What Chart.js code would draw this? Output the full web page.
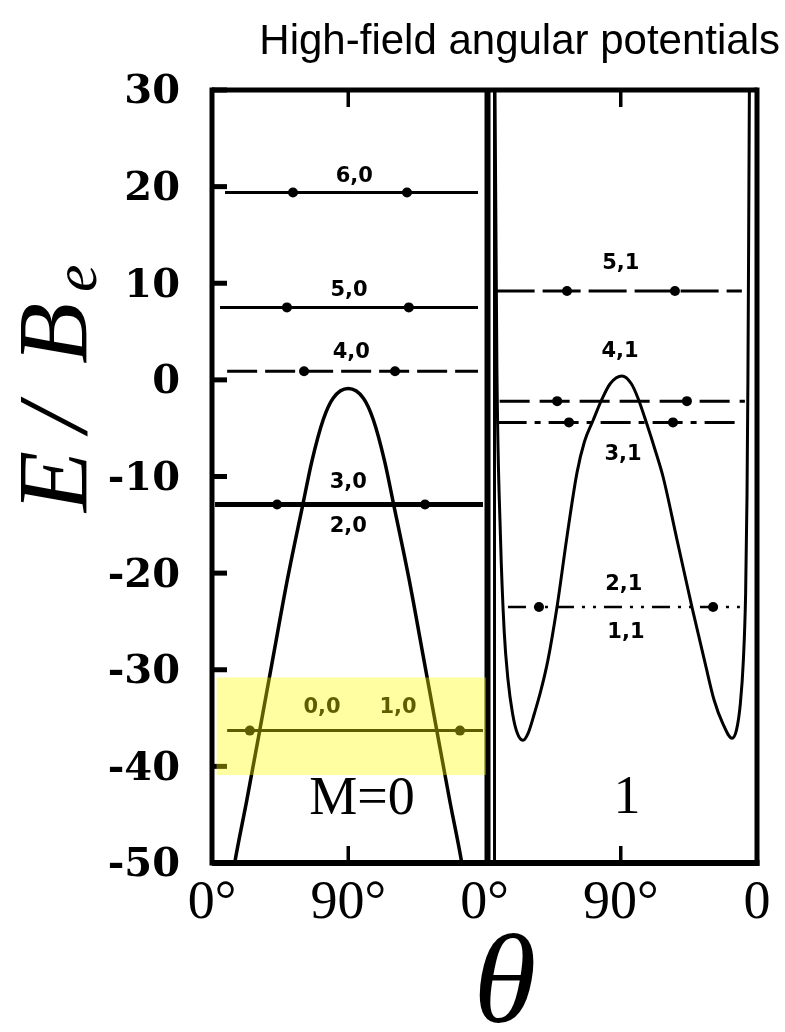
<!DOCTYPE html>
<html>
<head>
<meta charset="utf-8">
<script src="https://cdn.jsdelivr.net/npm/chart.js@4.4.1/dist/chart.umd.min.js"></script>
<style>
html, body { margin: 0; padding: 0; background: #fff; }
</style>
</head>
<body>
<canvas id="grafico" width="785" height="1032"></canvas>
<script>
// axes
const thetaTicks = [0, 90, 180, 270, 360];
const thetaTickLabels = ['0°', '90°', '0°', '90°', '0'];
const energyTicks = [30, 20, 10, 0, -10, -20, -30, -40, -50];
const panelOffset = 180; // M=1 panel starts after the M=0 panel

// M=0 angular potential (left panel), theta in degrees, E/Be
const m0Theta  = [12, 15, 23, 31.5, 40, 50, 60, 66, 73.5, 80, 90, 100, 106.5, 114, 120, 130, 140, 148.5, 157, 165, 168];
const m0Energy = [-53, -50, -43.5, -36.3, -29, -20.5, -12.9, -8.4, -4.1, -1.9, -0.9, -1.9, -4.1, -8.4, -12.9, -20.5, -29, -36.3, -43.5, -50, -53];

// M=1 angular potential (right panel)
const m1Theta  = [6.9, 8.2, 10.5, 13, 15.5, 18.5, 21.5, 25.4, 29, 33, 37, 41.9, 47.9, 54.5, 61.1, 66, 71.7, 77.6, 83, 90.8, 97, 101.4, 107.3, 112.6, 117.9, 127.1, 137, 146, 151.6, 157.5, 163.5, 166.5, 169, 171, 172.5, 173.4, 174, 174.5, 175];
const m1Energy = [31, 1.1, -16, -26, -31, -34.5, -36.5, -37.3, -36.5, -34.5, -32.3, -29, -23.5, -16.2, -9.6, -6.4, -4.2, -2, -0.4, 0.4, -0.4, -1.9, -4.6, -7.2, -10, -16.5, -23.5, -29.5, -33.1, -35.6, -37.1, -36.2, -33.5, -29, -22, -12, 0, 15, 31];

// energy levels (horizontal lines)
const levelM     = [0, 0, 0, 0, 0, 1, 1, 1, 1];
const levelValue = [19.4, 7.5, 0.9, -12.9, -36.3, 9.2, -2.2, -4.4, -23.5];
const levelFrom  = [8.6, 5.3, 10, 2, 10, 8, 10, 8, 15.5];
const levelTo    = [175.7, 175.7, 175.7, 179, 179, 170, 172, 168.7, 168.7];
const levelDotA  = [53.5, 49.5, 60.8, 43, 25, 54.5, 48, 55.8, 36];
const levelDotB  = [128.8, 130, 120.9, 140.7, 163.8, 125.8, 133.7, 124.5, 151];

// state labels (J,M) and the level they belong to
const stateLabels = ['6,0', '5,0', '4,0', '3,0', '2,0', '0,0', '1,0', '5,1', '4,1', '3,1', '2,1', '1,1'];
const stateLevel  = [0, 1, 2, 3, 3, 4, 4, 5, 6, 7, 8, 8];
const stateTheta  = [94, 90.5, 92, 90, 90, 72.7, 122.9, 90, 89.5, 91.5, 92, 93.4];

// highlighted region
const highlightTheta  = [3, 181];
const highlightEnergy = [-40.9, -30.8];

// styles
const levelDash  = [[], [], [30, 8], [], [], [38, 8], [30, 10], [30, 8, 6, 8], [18, 8, 3, 8, 3, 8]];
const levelWidth = [3, 3, 3, 5, 3, 3, 3, 3, 2.5];
const labelDy    = [-16, -17, -19, -22, 22, -23, -23, -27, -50, 32, -22, 26];

const datasets = [];
datasets.push({
	data: m0Theta.map((t, i) => ({ x: t, y: m0Energy[i] })),
	borderColor: '#000', borderWidth: 3.5, pointRadius: 0, showLine: true,
	cubicInterpolationMode: 'monotone'
});
datasets.push({
	data: m1Theta.map((t, i) => ({ x: panelOffset + t, y: m1Energy[i] })),
	borderColor: '#000', borderWidth: 3, pointRadius: 0, showLine: true,
	cubicInterpolationMode: 'monotone'
});
levelValue.forEach((v, i) => {
	const off = levelM[i] * panelOffset;
	datasets.push({
		data: [
			{ x: off + levelFrom[i], y: v },
			{ x: off + levelDotA[i], y: v },
			{ x: off + levelDotB[i], y: v },
			{ x: off + levelTo[i], y: v }
		],
		borderColor: '#000', borderWidth: levelWidth[i], borderDash: levelDash[i],
		pointRadius: [0, 5, 5, 0], pointBackgroundColor: '#000', pointBorderWidth: 0,
		showLine: true
	});
});

function line(ctx, x1, y1, x2, y2, w) {
	ctx.lineWidth = w;
	ctx.beginPath();
	ctx.moveTo(x1, y1);
	ctx.lineTo(x2, y2);
	ctx.stroke();
}

const moldura = {
	id: 'moldura',
	afterDatasetsDraw(chart) {
		const { ctx, chartArea: a, scales: { x, y } } = chart;
		ctx.save();
		ctx.strokeStyle = '#000';
		ctx.setLineDash([]);
		// frame
		line(ctx, a.left, a.top - 2.5, a.left, a.bottom + 2.5, 5);
		line(ctx, a.left, a.top, a.right, a.top, 5);
		line(ctx, a.left, a.bottom, a.right + 2.5, a.bottom, 6);
		line(ctx, a.right, a.top - 2.5, a.right, a.bottom + 2.5, 5);
		// panel divider
		const xd = x.getPixelForValue(panelOffset);
		line(ctx, xd + 3, a.top, xd + 3, a.bottom, 6);
		line(ctx, xd + 10, a.top, xd + 10, a.bottom, 3);
		// inner ticks
		energyTicks.forEach(v => {
			const py = y.getPixelForValue(v);
			line(ctx, a.left, py, a.left + 15, py, 5);
		});
		[90, 270].forEach(v => {
			const px = x.getPixelForValue(v);
			line(ctx, px, a.top, px, a.top + 17, 3.5);
			line(ctx, px, a.bottom, px, a.bottom - 17, 3.5);
		});
		// state labels
		ctx.fillStyle = '#000';
		ctx.font = 'bold 21px "DejaVu Sans"';
		ctx.textAlign = 'center';
		ctx.textBaseline = 'middle';
		stateLabels.forEach((s, i) => {
			const lv = stateLevel[i];
			const px = x.getPixelForValue(levelM[lv] * panelOffset + stateTheta[i]);
			const py = y.getPixelForValue(levelValue[lv]) + labelDy[i];
			ctx.fillText(s, px, py);
		});
		// panel names
		ctx.font = '54px "Liberation Serif"';
		ctx.textBaseline = 'alphabetic';
		ctx.fillText('M=0', 362, 814);
		ctx.fillText('1', 627, 813);
		ctx.restore();
	},
	afterDraw(chart) {
		const { ctx, scales: { x, y } } = chart;
		ctx.save();
		// highlight box
		const x1 = x.getPixelForValue(highlightTheta[0]);
		const x2 = x.getPixelForValue(highlightTheta[1]);
		const y1 = y.getPixelForValue(highlightEnergy[1]);
		const y2 = y.getPixelForValue(highlightEnergy[0]);
		ctx.fillStyle = 'rgba(255, 255, 0, 0.37)';
		ctx.fillRect(x1, y1, x2 - x1, y2 - y1);
		// title
		ctx.fillStyle = '#000';
		ctx.font = '42px "Liberation Sans"';
		ctx.textAlign = 'right';
		ctx.textBaseline = 'alphabetic';
		ctx.fillText('High-field angular potentials', 780, 54);
		// x axis title
		ctx.textAlign = 'center';
		ctx.font = 'italic 128px "Liberation Serif"';
		ctx.fillText('θ', 505, 1022);
		// y axis title E/Be
		ctx.translate(86, 0);
		ctx.rotate(-Math.PI / 2);
		ctx.textAlign = 'left';
		ctx.font = 'italic 100px "Liberation Serif"';
		ctx.fillText('E', -512, 0);
		ctx.fillText('/', -432, 0);
		ctx.fillText('B', -364, 0);
		ctx.font = 'italic 62px "Liberation Serif"';
		ctx.fillText('e', -292, 10);
		ctx.restore();
	}
};

const ctx = document.getElementById('grafico').getContext('2d');
let myChart = new Chart(ctx, {
	type: 'scatter',
	data: { datasets: datasets },
	plugins: [moldura],
	options: {
		responsive: false,
		animation: false,
		layout: { padding: { left: 0, right: 28, top: 90, bottom: 0 } },
		plugins: {
			legend: { display: false },
			tooltip: { enabled: false },
			title: { display: false }
		},
		scales: {
			x: {
				type: 'linear', min: 0, max: 360,
				grid: { display: false }, border: { display: false },
				afterBuildTicks: s => { s.ticks = thetaTicks.map(v => ({ value: v })); },
				afterFit: s => { s.height = 169; },
				ticks: {
					autoSkip: false, maxRotation: 0, padding: 0, color: '#000',
					font: { family: 'Liberation Serif', size: 54 },
					callback: (v, i) => thetaTickLabels[i]
				}
			},
			y: {
				type: 'linear', min: -50, max: 30,
				grid: { display: false }, border: { display: false },
				afterBuildTicks: s => { s.ticks = energyTicks.map(v => ({ value: v })); },
				afterFit: s => { s.width = 212; },
				ticks: {
					padding: 24, color: '#000', labelOffset: 3,
					font: { family: 'DejaVu Serif', size: 40, weight: 'bold' }
				}
			}
		}
	}
});
</script>
</body>
</html>
